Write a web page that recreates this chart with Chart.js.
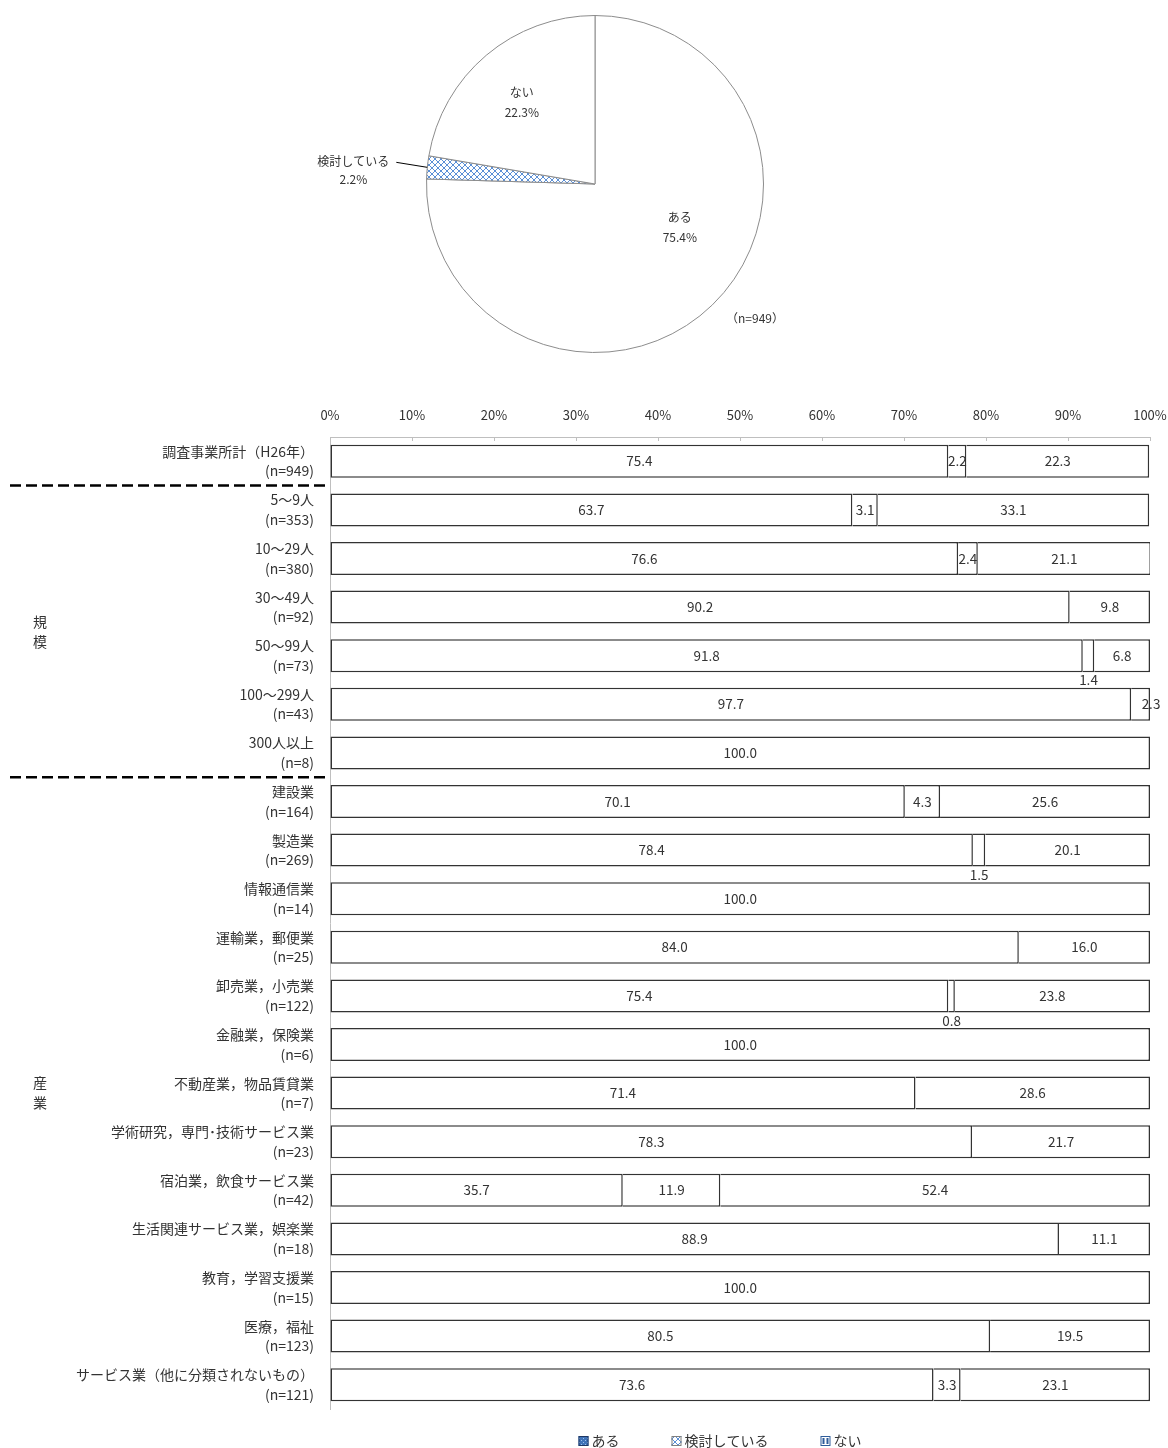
<!DOCTYPE html>
<html><head><meta charset="utf-8">
<script src="https://cdn.jsdelivr.net/npm/chart.js@4.4.1/dist/chart.umd.min.js"></script>
<style>
html,body{margin:0;padding:0;background:#fff;}
body{width:1168px;height:1448px;position:relative;overflow:hidden;}
#pie{position:absolute;left:0;top:0;}
#bar{position:absolute;left:0;top:395px;}
</style></head><body>
<canvas id="pie" width="1168" height="370"></canvas>
<canvas id="bar" width="1168" height="1053"></canvas>
<script>
// ---------- data ----------
const seriesNames = ['ある', '検討している', 'ない'];
const pieValues = [75.4, 2.2, 22.3];
const pieNote = '（n=949）';

const categories = [
  '調査事業所計（H26年）',
  '5〜9人', '10〜29人', '30〜49人', '50〜99人', '100〜299人', '300人以上',
  '建設業', '製造業', '情報通信業', '運輸業，郵便業', '卸売業，小売業', '金融業，保険業',
  '不動産業，物品賃貸業', '学術研究，専門･技術サービス業', '宿泊業，飲食サービス業',
  '生活関連サービス業，娯楽業', '教育，学習支援業', '医療，福祉', 'サービス業（他に分類されないもの）'
];
const sampleSizes = [949, 353, 380, 92, 73, 43, 8, 164, 269, 14, 25, 122, 6, 7, 23, 42, 18, 15, 123, 121];
const aruValues    = [75.4, 63.7, 76.6, 90.2, 91.8, 97.7, 100.0, 70.1, 78.4, 100.0, 84.0, 75.4, 100.0, 71.4, 78.3, 35.7, 88.9, 100.0, 80.5, 73.6];
const kentouValues = [2.2, 3.1, 2.4, 0, 1.4, 0, 0, 4.3, 1.5, 0, 0, 0.8, 0, 0, 0, 11.9, 0, 0, 0, 3.3];
const naiValues    = [22.3, 33.1, 21.1, 9.8, 6.8, 2.3, 0, 25.6, 20.1, 0, 16.0, 23.8, 0, 28.6, 21.7, 52.4, 11.1, 0, 19.5, 23.1];
const xTickValues = [0, 10, 20, 30, 40, 50, 60, 70, 80, 90, 100];
const groupLabels = ['規模', '産業'];
const groupRanges = [[1, 6], [7, 19]];
const separatorsAfter = [0, 6];

// ---------- styles ----------
const FONT = '"Noto Sans CJK JP", "Noto Sans", sans-serif';
const TEXT = '#333333';

function makePattern(kind) {
  const c = document.createElement('canvas');
  const s = kind === 'hatch' ? 6 : 4;
  c.width = s; c.height = s;
  const g = c.getContext('2d');
  g.fillStyle = '#ffffff'; g.fillRect(0, 0, s, s);
  if (kind === 'hatch') {
    g.strokeStyle = '#5b8fd6'; g.lineWidth = 1;
    g.beginPath(); g.moveTo(0, 0); g.lineTo(s, s); g.moveTo(s, 0); g.lineTo(0, s); g.stroke();
  } else if (kind === 'dots') {
    g.fillStyle = '#3f73b8'; g.fillRect(0, 0, s, s);
    g.fillStyle = '#9cc0ec'; g.fillRect(1, 1, 1, 1); g.fillRect(3, 3, 1, 1);
  }
  return g.createPattern(c, 'repeat');
}
const hatch = makePattern('hatch');

// ---------- pie ----------
const pieLabelPlacement = [
  { f: 0.565, da: -0.33 },
  { outside: true, dx: 31, dy: 5 },
  { f: 0.65, da: -0.03 }
];
const pieLabelPlugin = {
  id: 'pieLabels',
  afterDatasetsDraw(chart) {
    const ctx = chart.ctx;
    const meta = chart.getDatasetMeta(0);
    ctx.save();
    ctx.font = '12px ' + FONT;
    ctx.fillStyle = TEXT;
    ctx.textBaseline = 'middle';
    let cx = 0, cy = 0;
    meta.data.forEach((arc, i) => {
      const p = arc.getProps(['x', 'y', 'startAngle', 'endAngle', 'outerRadius'], true);
      cx = p.x; cy = p.y;
      const mid = (p.startAngle + p.endAngle) / 2;
      const cfg = pieLabelPlacement[i];
      const name = chart.data.labels[i];
      const pct = pieValues[i].toFixed(1) + '%';
      if (cfg.outside) {
        const ex = p.x + Math.cos(mid) * p.outerRadius;
        const ey = p.y + Math.sin(mid) * p.outerRadius;
        const lx = ex - cfg.dx, ly = ey - cfg.dy;
        ctx.strokeStyle = '#000'; ctx.lineWidth = 1;
        ctx.beginPath(); ctx.moveTo(ex, ey); ctx.lineTo(lx, ly); ctx.stroke();
        const w = ctx.measureText(name).width;
        ctx.textAlign = 'right';
        ctx.fillText(name, lx - 7, ly - 1);
        ctx.textAlign = 'center';
        ctx.fillText(pct, lx - 7 - w / 2, ly + 17);
      } else {
        const a = mid + cfg.da, r = p.outerRadius * cfg.f;
        const px = p.x + Math.cos(a) * r, py = p.y + Math.sin(a) * r;
        ctx.textAlign = 'center';
        ctx.fillText(name, px, py - 10);
        ctx.fillText(pct, px, py + 10);
      }
    });
    ctx.textAlign = 'center';
    ctx.fillText(pieNote, cx + 160, cy + 134);
    ctx.restore();
  }
};

new Chart(document.getElementById('pie'), {
  type: 'pie',
  data: {
    labels: seriesNames,
    datasets: [{
      data: pieValues,
      backgroundColor: ['#ffffff', hatch, '#ffffff'],
      borderColor: '#8c8c8c',
      borderWidth: 1
    }]
  },
  options: {
    responsive: false, animation: false,
    layout: { padding: { left: 426, right: 404, top: 15, bottom: 17 } },
    plugins: { legend: { display: false }, tooltip: { enabled: false } }
  },
  plugins: [pieLabelPlugin]
});

// ---------- bar ----------
const decorPlugin = {
  id: 'decor',
  afterDraw(chart) {
    const ctx = chart.ctx;
    const ca = chart.chartArea;
    const xs = chart.scales.x, ys = chart.scales.y;
    ctx.save();
    // inner tick marks on top axis
    ctx.strokeStyle = '#bfbfbf'; ctx.lineWidth = 1;
    xTickValues.forEach(v => {
      const px = Math.round(xs.getPixelForValue(v)) + 0.5;
      ctx.beginPath(); ctx.moveTo(px, ca.top); ctx.lineTo(px, ca.top + 4); ctx.stroke();
    });
    // dashed separators
    ctx.strokeStyle = '#000'; ctx.lineWidth = 2.5; ctx.setLineDash([11, 5]);
    separatorsAfter.forEach(i => {
      const py = (ys.getPixelForValue(i) + ys.getPixelForValue(i + 1)) / 2;
      ctx.beginPath(); ctx.moveTo(10, py); ctx.lineTo(ca.left - 2, py); ctx.stroke();
    });
    ctx.setLineDash([]);
    // group labels
    ctx.font = '14px ' + FONT; ctx.fillStyle = TEXT;
    ctx.textAlign = 'center'; ctx.textBaseline = 'middle';
    groupLabels.forEach((g, k) => {
      const [a, b] = groupRanges[k];
      const py = (ys.getPixelForValue(a) + ys.getPixelForValue(b)) / 2;
      const chars = Array.from(g);
      chars.forEach((ch, m) => {
        ctx.fillText(ch, 40, py + (m - (chars.length - 1) / 2) * 20);
      });
    });
    // legend
    const swatches = [makePattern('dots'), hatch, '#ffffff'];
    const swBorder = ['#1f3864', '#7f7f7f', '#2e5c9a'];
    ctx.font = '14px ' + FONT;
    const gap = 52, box = 10;
    const widths = chart.data.datasets.map(d => box + 3 + ctx.measureText(d.label).width);
    const total = widths.reduce((a, b) => a + b, 0) + gap * (widths.length - 1);
    let lx = (ca.left + ca.right) / 2 - 20 - total / 2;
    const ly = ca.bottom + 32;
    ctx.textAlign = 'left';
    chart.data.datasets.forEach((d, i) => {
      ctx.fillStyle = swatches[i];
      ctx.fillRect(lx, ly - 5, box, box);
      ctx.strokeStyle = swBorder[i]; ctx.lineWidth = 1;
      ctx.strokeRect(lx + 0.5, ly - 4.5, box - 1, box - 1);
      if (i === 2) {
        ctx.fillStyle = '#2e5c9a';
        ctx.fillRect(lx + 2, ly - 3, 2, 6); ctx.fillRect(lx + 6, ly - 3, 2, 6);
      }
      ctx.fillStyle = TEXT;
      ctx.fillText(d.label, lx + box + 3, ly);
      lx += widths[i] + gap;
    });
    ctx.restore();
  },
  afterDatasetsDraw(chart) {
    const ctx = chart.ctx;
    ctx.save();
    ctx.font = '13.5px ' + FONT; ctx.fillStyle = TEXT;
    ctx.textAlign = 'center'; ctx.textBaseline = 'middle';
    chart.data.datasets.forEach((ds, di) => {
      const meta = chart.getDatasetMeta(di);
      meta.data.forEach((bar, j) => {
        const v = ds.data[j];
        if (!v) return;
        const p = bar.getProps(['x', 'y', 'base', 'height'], true);
        let tx = (p.x + p.base) / 2, ty = p.y;
        if (v < 2) ty = p.y + p.height / 2 + 8;
        else if (di === 2 && v < 3) tx = p.x + 1;
        ctx.fillText(v.toFixed(1), tx, ty);
      });
    });
    ctx.restore();
  }
};

const barStyle = { backgroundColor: '#ffffff', borderColor: '#333333', borderWidth: 1.5 };
new Chart(document.getElementById('bar'), {
  type: 'bar',
  data: {
    labels: categories.map((c, i) => [c, '(n=' + sampleSizes[i] + ')']),
    datasets: [
      Object.assign({ label: seriesNames[0], data: aruValues, borderSkipped: false }, barStyle),
      Object.assign({ label: seriesNames[1], data: kentouValues, borderSkipped: 'start' }, barStyle),
      Object.assign({ label: seriesNames[2], data: naiValues, borderSkipped: 'start' }, barStyle)
    ]
  },
  options: {
    indexAxis: 'y', responsive: false, animation: false,
    layout: { padding: { left: 0, right: 0, top: 0, bottom: 39 } },
    datasets: { bar: { categoryPercentage: 1, barPercentage: 0.68 } },
    scales: {
      x: {
        position: 'top', stacked: true, min: 0, max: 100,
        afterBuildTicks(s) { s.ticks = xTickValues.map(v => ({ value: v })); },
        ticks: { callback: v => v + '%', font: { family: FONT, size: 13 }, color: TEXT, padding: 14, maxRotation: 0 },
        grid: { drawOnChartArea: false, drawTicks: false },
        border: { color: '#bfbfbf' },
        afterFit(s) { s.height = 42; s.paddingRight = 18; s.paddingLeft = 0; }
      },
      y: {
        stacked: true,
        ticks: { font: { family: FONT, size: 14, lineHeight: 1.4 }, color: TEXT, padding: 16, autoSkip: false },
        grid: { display: false, drawTicks: false },
        border: { color: '#bfbfbf' },
        afterFit(s) { s.width = 330; }
      }
    },
    plugins: { legend: { display: false }, tooltip: { enabled: false } }
  },
  plugins: [decorPlugin]
});
</script>
</body></html>
